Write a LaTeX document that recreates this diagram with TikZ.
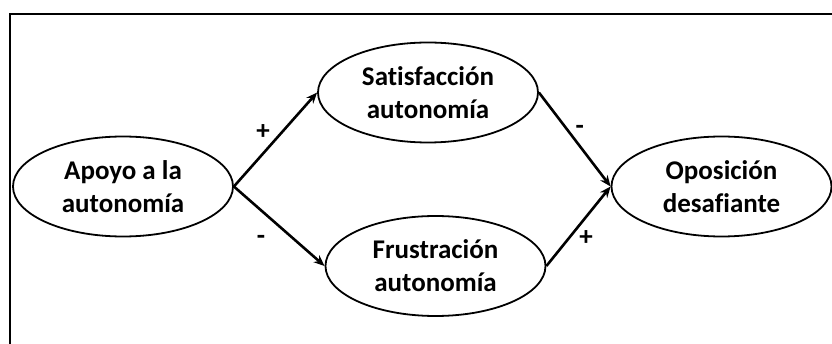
\documentclass[tikz,border=0pt]{standalone}
\usepackage{fontspec}
\setmainfont[Ligatures=NoCommon]{Carlito}
\usetikzlibrary{shapes.geometric, arrows.meta}

\begin{document}
\begin{tikzpicture}[x=1pt, y=-1pt,
  var/.style={draw, ellipse, line width=1.8pt, minimum width=220pt, minimum height=100pt, inner sep=0pt, align=center, font=\fontsize{27}{33}\selectfont\bfseries},
  effect/.style={-{Stealth[length=11pt, width=9pt]}, line width=2.6pt},
  signo/.style={font=\fontsize{27}{33}\selectfont\bfseries, inner sep=1pt}]
\useasboundingbox (0,0) rectangle (832,344);
\draw[line width=2pt] (10,14.3) rectangle (870,380);
\node[var] (apoyo) at (123,186.5) {Apoyo a la\\autonomía};
\node[var] (satis) at (428,92.5) {Satisfacción\\autonomía};
\node[var] (frus) at (435.5,266) {Frustración\\autonomía};
\node[var] (opos) at (721.5,186.5) {Oposición\\desafiante};
\draw[effect] (apoyo.east) -- node[signo, pos=.35, above=12pt] {+} (satis.west);
\draw[effect] (apoyo.east) -- node[signo, pos=.3, below=23pt] {-} (frus.west);
\draw[effect] (satis.east) -- node[signo, pos=.395, right=6pt] {-} (opos.west);
\draw[effect] (frus.east) -- node[signo, pos=.62, below=12pt] {+} (opos.west);
\end{tikzpicture}
\end{document}
